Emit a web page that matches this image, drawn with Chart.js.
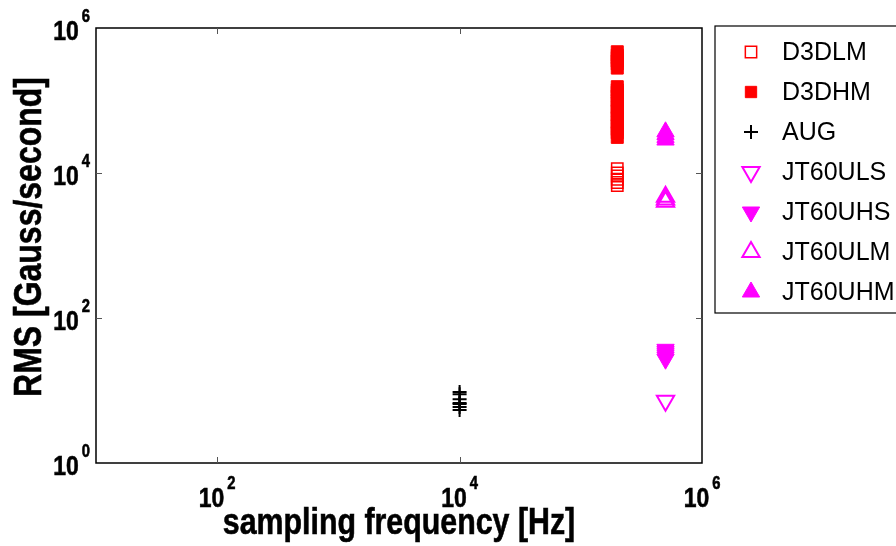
<!DOCTYPE html>
<html>
<head>
<meta charset="utf-8">
<script src="https://cdn.jsdelivr.net/npm/chart.js@4.4.1/dist/chart.umd.min.js"></script>
<style>
html, body { margin: 0; padding: 0; background: #fff; }
canvas { display: block; }
</style>
</head>
<body>
<canvas id="rmsChart" width="896" height="546"></canvas>
<script>
// series names (legend order)
const seriesNames = ['D3DLM', 'D3DHM', 'AUG', 'JT60ULS', 'JT60UHS', 'JT60ULM', 'JT60UHM'];

// sampling frequency of each machine [Hz]
const freqD3D = 2e5;
const freqAUG = 1e4;
const freqJT60 = 5e5;

// RMS values [Gauss/second]
const d3dlmRms = [11500, 10000, 9100, 8200, 7400, 6700];
const d3dhmRms = [470000, 420000, 390000, 350000, 320000, 280000,
                  155000, 140000, 130000, 115000, 100000, 92000, 80000, 72000,
                  63000, 58000, 50000, 45000, 40000, 36000, 31000];
const augRms = [9.5, 8.9, 7.6, 6.7, 6.5, 5.9, 5.4];
const jt60ulsRms = [7.2];
const jt60uhsRms = [37, 35, 33, 31, 29, 27];
const jt60ulmRms = [4700, 4300, 4000];
const jt60uhmRms = [37000, 34000, 31000, 28500];

// tick labels: base and exponent
const xTickValues = [1e2, 1e4, 1e6];
const xTickExps = ['2', '4', '6'];
const yTickValues = [1, 1e2, 1e4, 1e6];
const yTickExps = ['0', '2', '4', '6'];

const xTitle = 'sampling frequency [Hz]';
const yTitle = 'RMS [Gauss/second]';

const boldFamily = '"Liberation Sans", Arial, sans-serif';
const plainFamily = '"Liberation Sans", Arial, sans-serif';
const narrow = 0.82;   // bold text in the figure is condensed

function pts(freq, vals) {
    return vals.map(v => ({x: freq, y: v}));
}

const red = '#ff0000';
const magenta = '#ff00ff';
const none = 'rgba(0,0,0,0)';

const datasets = [
    {label: seriesNames[0], data: pts(freqD3D, d3dlmRms), pointStyle: 'rect', pointRadius: 8,
        borderColor: red, backgroundColor: none, borderWidth: 1.5},
    {label: seriesNames[1], data: pts(freqD3D, d3dhmRms), pointStyle: 'rect', pointRadius: 8.5,
        borderColor: red, backgroundColor: red, borderWidth: 1},
    {label: seriesNames[2], data: pts(freqAUG, augRms), pointStyle: 'cross', pointRadius: 7,
        borderColor: '#000', backgroundColor: '#000', borderWidth: 2},
    {label: seriesNames[3], data: pts(freqJT60, jt60ulsRms), pointStyle: 'triangle', rotation: 180, pointRadius: 10,
        borderColor: magenta, backgroundColor: none, borderWidth: 2},
    {label: seriesNames[4], data: pts(freqJT60, jt60uhsRms), pointStyle: 'triangle', rotation: 180, pointRadius: 10,
        borderColor: magenta, backgroundColor: magenta, borderWidth: 1},
    {label: seriesNames[5], data: pts(freqJT60, jt60ulmRms), pointStyle: 'triangle', rotation: 0, pointRadius: 10,
        borderColor: magenta, backgroundColor: none, borderWidth: 2},
    {label: seriesNames[6], data: pts(freqJT60, jt60uhmRms), pointStyle: 'triangle', rotation: 0, pointRadius: 10,
        borderColor: magenta, backgroundColor: magenta, borderWidth: 1}
];

// condensed bold text: width of a string and drawing it
function narrowWidth(ctx, text, font) {
    ctx.font = font;
    return ctx.measureText(text).width * narrow;
}
function narrowText(ctx, text, x, y, font, align, rot) {
    ctx.save();
    ctx.translate(x, y);
    if (rot) ctx.rotate(rot);
    ctx.scale(narrow, 1);
    ctx.font = font;
    ctx.textAlign = align;
    ctx.textBaseline = 'alphabetic';
    ctx.fillText(text, 0, 0);
    ctx.lineWidth = 0.6;
    ctx.strokeStyle = '#000';
    ctx.strokeText(text, 0, 0);
    ctx.restore();
}

// box, inward ticks, 10^n labels and axis titles, matlab style
const matlabAxes = {
    id: 'matlabAxes',
    afterDraw(chart) {
        const ctx = chart.ctx;
        const a = chart.chartArea;
        const xs = chart.scales.x, ys = chart.scales.y;
        ctx.save();
        ctx.strokeStyle = '#000';
        ctx.lineWidth = 1.5;
        ctx.strokeRect(a.left, a.top, a.right - a.left, a.bottom - a.top);

        ctx.lineWidth = 1;
        ctx.strokeStyle = '#555';
        ctx.beginPath();
        xTickValues.forEach(v => {
            const px = Math.round(xs.getPixelForValue(v)) + 0.5;
            if (px < a.left + 2 || px > a.right - 2) return;
            ctx.moveTo(px, a.bottom); ctx.lineTo(px, a.bottom - 6);
            ctx.moveTo(px, a.top); ctx.lineTo(px, a.top + 6);
        });
        yTickValues.forEach(v => {
            const py = Math.round(ys.getPixelForValue(v)) + 0.5;
            if (py < a.top + 2 || py > a.bottom - 2) return;
            ctx.moveTo(a.left, py); ctx.lineTo(a.left + 6, py);
            ctx.moveTo(a.right, py); ctx.lineTo(a.right - 6, py);
        });
        ctx.stroke();

        const baseFont = 'bold 28px ' + boldFamily;
        const expFont = 'bold 18px ' + boldFamily;
        ctx.fillStyle = '#000';
        xTickValues.forEach((v, i) => {
            const px = xs.getPixelForValue(v);
            const w1 = narrowWidth(ctx, '10', baseFont);
            const w2 = narrowWidth(ctx, xTickExps[i], expFont);
            const x0 = px - (w1 + 3 + w2) / 2;
            narrowText(ctx, '10', x0, a.bottom + 44, baseFont, 'left');
            narrowText(ctx, xTickExps[i], x0 + w1 + 3, a.bottom + 26, expFont, 'left');
        });
        yTickValues.forEach((v, i) => {
            const py = ys.getPixelForValue(v);
            const right = a.left - 6;
            const w2 = narrowWidth(ctx, yTickExps[i], expFont);
            narrowText(ctx, yTickExps[i], right, py - 6, expFont, 'right');
            narrowText(ctx, '10', right - w2 - 3, py + 12, baseFont, 'right');
        });

        narrowText(ctx, xTitle, (a.left + a.right) / 2, 534, 'bold 37px ' + boldFamily, 'center');
        narrowText(ctx, yTitle, 41, 237, 'bold 39px ' + boldFamily, 'center', -Math.PI / 2);
        ctx.restore();
    }
};

// boxed legend to the right of the axes
const boxLegend = {
    id: 'boxLegend',
    afterDraw(chart) {
        const ctx = chart.ctx;
        ctx.save();
        ctx.strokeStyle = '#000';
        ctx.lineWidth = 1.2;
        ctx.strokeRect(715, 26, 300, 287);
        chart.data.datasets.forEach((ds, i) => {
            const y = 52 + i * 40;
            ctx.fillStyle = ds.backgroundColor;
            ctx.strokeStyle = ds.borderColor;
            ctx.lineWidth = ds.borderWidth;
            Chart.helpers.drawPoint(ctx, {
                pointStyle: ds.pointStyle,
                rotation: ds.rotation || 0,
                radius: ds.pointStyle === 'rect' ? 8 : ds.pointRadius,
                borderWidth: ds.borderWidth
            }, 751, y);
            ctx.fillStyle = '#000';
            ctx.font = '25px ' + plainFamily;
            ctx.textAlign = 'left';
            ctx.textBaseline = 'middle';
            ctx.fillText(ds.label, 782, y + 1);
        });
        ctx.restore();
    }
};

new Chart(document.getElementById('rmsChart'), {
    type: 'scatter',
    data: {datasets: datasets},
    options: {
        responsive: false,
        animation: false,
        events: [],
        layout: {padding: {top: 28, right: 194, left: 0, bottom: 0}},
        plugins: {legend: {display: false}, tooltip: {enabled: false}},
        scales: {
            x: {
                type: 'logarithmic', min: 10, max: 1e6, position: 'bottom',
                grid: {display: false}, border: {display: false}, ticks: {display: false},
                afterFit: s => { s.height = 83; }
            },
            y: {
                type: 'logarithmic', min: 1, max: 1e6, position: 'left',
                grid: {display: false}, border: {display: false}, ticks: {display: false},
                afterFit: s => { s.width = 96; }
            }
        }
    },
    plugins: [matlabAxes, boxLegend]
});
</script>
</body>
</html>
